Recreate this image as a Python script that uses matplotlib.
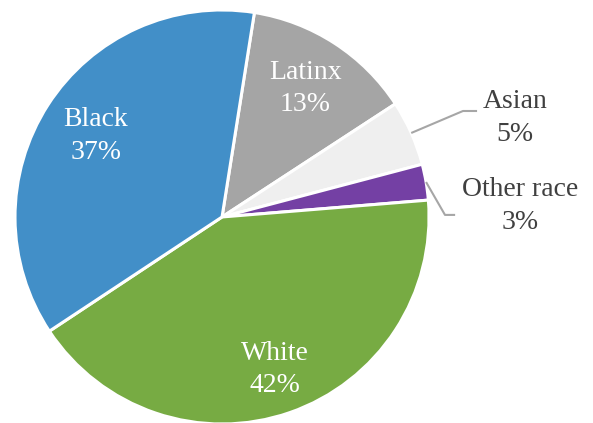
import numpy as np
import matplotlib.pyplot as plt

labels = ["Latinx", "Asian", "Other race", "White", "Black"]
values = [13.3, 5.1, 2.8, 42.0, 36.8]
pct_text = ["13%", "5%", "3%", "42%", "37%"]
colors = ["#A5A5A5", "#EFEFEF", "#7440A4", "#77AB43", "#428FC8"]

plt.rcParams['font.family'] = ['Liberation Serif', 'DejaVu Serif']

fig = plt.figure(figsize=(5.93, 4.23), dpi=100)
ax = fig.add_axes([0, 0, 1, 1])

wedges, _ = ax.pie(values, colors=colors, startangle=81, counterclock=False,
                   wedgeprops=dict(edgecolor="white", linewidth=2.2))

ax.set_xlim(-1.0725, 1.792)
ax.set_ylim(-0.995, 1.048)
ax.set_aspect("equal")
ax.axis("off")

# inside labels: radial distance per slice
inside = {"Latinx": 0.74, "White": 0.78, "Black": 0.725}
for w, lab, pct in zip(wedges, labels, pct_text):
    mid = np.deg2rad((w.theta1 + w.theta2) / 2)
    if lab in inside:
        r = inside[lab]
        ax.text(r * np.cos(mid), r * np.sin(mid), lab + "\n" + pct,
                ha="center", va="center", color="white", fontsize=20,
                linespacing=1.4)

# outside labels with leader lines
outside = {"Asian": ((1.164, 0.512), (1.232, 0.512), (1.415, 0.478)),
           "Other race": ((1.077, 0.01), (1.126, 0.01), (1.44, 0.053))}
for w, lab, pct in zip(wedges, labels, pct_text):
    if lab in outside:
        mid = np.deg2rad((w.theta1 + w.theta2) / 2)
        elbow, end, txt = outside[lab]
        x0, y0 = 1.0 * np.cos(mid), 1.0 * np.sin(mid)
        ax.plot([x0, elbow[0], end[0]], [y0, elbow[1], end[1]],
                color="#A6A6A6", lw=1.5, solid_capstyle="butt")
        ax.text(txt[0], txt[1], lab + "\n" + pct, ha="center", va="center",
                color="#404040", fontsize=20, linespacing=1.4)

fig.savefig("out.png", dpi=100)
